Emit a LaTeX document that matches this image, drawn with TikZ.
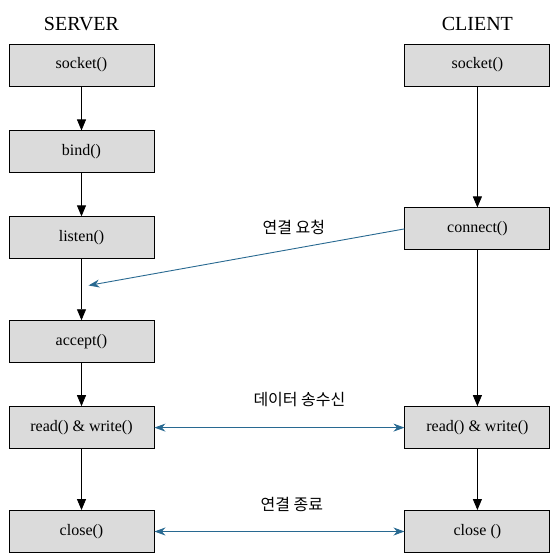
\documentclass[tikz,border=0pt]{standalone}
\usepackage{fontspec}
\setmainfont{Liberation Serif}
\newfontfamily\kofont{Noto Sans CJK KR}
\usepackage{xcolor}
\usepackage{tikz}
\usetikzlibrary{arrows.meta, positioning, calc}
\definecolor{linkblue}{RGB}{40,105,145}

\begin{document}
\begin{tikzpicture}[
    x=1pt, y=1pt,
    node distance=44pt,
    func/.style={rectangle, draw, line width=0.9pt, fill=black!14, minimum width=145pt, minimum height=42pt, font=\fontsize{16}{18}\selectfont},
    title/.style={font=\fontsize{20}{22}\selectfont},
    msg/.style={font=\kofont\fontsize{16}{18}\selectfont},
    flow/.style={-{Triangle[length=11pt,width=9pt]}, line width=0.8pt},
    link/.style={{Stealth[length=11pt,width=8pt]}-{Stealth[length=11pt,width=8pt]}, linkblue, line width=0.9pt}
]
\useasboundingbox (0,0) rectangle (560,-552);

% Server
\node[func] (ssock) at (81.5,-65) {socket()};
\node[func, below=of ssock] (sbind) {bind()};
\node[func, below=43pt of sbind] (slisten) {listen()};
\node[func, below=61pt of slisten] (saccept) {accept()};
\node[func, below=43pt of saccept] (srw) {read() \& write()};
\node[func, below=61pt of srw] (sclose) {close()};

% Client
\node[func, right=250pt of ssock] (csock) {socket()};
\node[func, below=121pt of csock] (cconn) {connect()};
\node[func, right=250pt of srw] (crw) {read() \& write()};
\node[func, right=250pt of sclose] (cclose) {close ()};

\node[title, above=9pt of ssock] (server) {SERVER};
\node[title, above=9pt of csock] (client) {CLIENT};

\draw[flow] (ssock) -- (sbind);
\draw[flow] (sbind) -- (slisten);
\draw[flow] (slisten) -- (saccept);
\draw[flow] (saccept) -- (srw);
\draw[flow] (srw) -- (sclose);

\draw[flow] (csock) -- (cconn);
\draw[flow] (cconn) -- (crw);
\draw[flow] (crw) -- (cclose);

% connection request
\coordinate (req) at ([xshift=7pt]$(slisten.south)!0.43!(saccept.north)$);
\draw[-{Stealth[length=11pt,width=8pt]}, linkblue, line width=0.9pt] (cconn.west) -- node[pos=0.35, above=10pt, msg, text=black] {연결 요청} (req);

\draw[link] (srw.east) -- node[pos=0.58, above=17pt, msg, text=black] {데이터 송수신} (crw.west);
\draw[link] (sclose.east) -- node[pos=0.55, above=16pt, msg, text=black] {연결 종료} (cclose.west);

\end{tikzpicture}
\end{document}
